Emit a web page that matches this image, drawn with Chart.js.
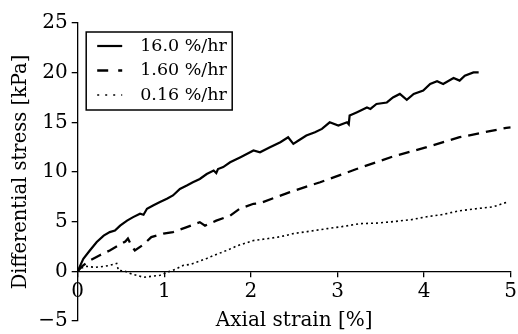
<!DOCTYPE html>
<html lang="en">
<head>
    <meta charset="UTF-8">
    <title>Differential stress vs axial strain</title>
    <script src="https://cdn.jsdelivr.net/npm/chart.js"></script>
    <style>
        html, body { margin: 0; padding: 0; background: #fff; }
        #wrap { width: 518px; height: 334px; }
    </style>
</head>
<body>
    <div id="wrap"><canvas id="stressChart"></canvas></div>

    <script>
        // Strain rate labels
        const rateLabels = ['16.0 %/hr', '1.60 %/hr', '0.16 %/hr'];

        // 16.0 %/hr curve
        const fastStrain = [0, 0.03, 0.065, 0.14, 0.22, 0.30, 0.37, 0.43, 0.49, 0.57, 0.64, 0.72, 0.76, 0.80, 0.87, 0.95, 1.03, 1.10, 1.18, 1.26, 1.33, 1.41, 1.49, 1.57, 1.60, 1.62, 1.68, 1.76, 1.88, 2.03, 2.105, 2.22, 2.34, 2.43, 2.49, 2.55, 2.64, 2.74, 2.82, 2.91, 3.01, 3.11, 3.13, 3.14, 3.22, 3.34, 3.38, 3.45, 3.57, 3.64, 3.72, 3.80, 3.88, 3.99, 4.07, 4.15, 4.22, 4.34, 4.41, 4.47, 4.57, 4.63];
        const fastStress = [0, 0.6, 1.27, 2.1, 2.95, 3.6, 3.95, 4.1, 4.6, 5.1, 5.46, 5.8, 5.7, 6.3, 6.63, 6.97, 7.3, 7.64, 8.3, 8.64, 8.97, 9.3, 9.8, 10.15, 9.9, 10.3, 10.5, 10.98, 11.49, 12.16, 11.99, 12.49, 13.0, 13.5, 12.83, 13.17, 13.67, 14.0, 14.34, 15.0, 14.67, 15.0, 14.8, 15.68, 16.0, 16.5, 16.35, 16.85, 17.0, 17.5, 17.86, 17.26, 17.86, 18.19, 18.86, 19.13, 18.86, 19.47, 19.2, 19.7, 20.03, 20.03];

        // 1.60 %/hr curve
        const midStrain = [0, 0.05, 0.14, 0.25, 0.37, 0.47, 0.55, 0.58, 0.62, 0.66, 0.76, 0.85, 0.99, 1.10, 1.26, 1.41, 1.47, 1.60, 1.76, 1.87, 2.03, 2.10, 2.45, 2.68, 2.80, 3.07, 3.22, 3.64, 4.03, 4.41, 4.95, 5.0];
        const midStress = [0, 0.5, 1.1, 1.6, 2.1, 2.6, 3.0, 3.3, 2.6, 2.1, 2.7, 3.45, 3.8, 3.95, 4.45, 4.95, 4.6, 5.1, 5.6, 6.3, 6.8, 6.85, 7.97, 8.64, 8.97, 9.82, 10.3, 11.56, 12.5, 13.5, 14.44, 14.5];

        // 0.16 %/hr curve
        const slowStrain = [0, 0.03, 0.1, 0.2, 0.3, 0.37, 0.45, 0.47, 0.55, 0.6, 0.68, 0.76, 0.85, 0.95, 1.03, 1.1, 1.22, 1.3, 1.4, 1.49, 1.6, 1.72, 1.85, 2.03, 2.2, 2.35, 2.49, 2.65, 2.88, 3.05, 3.26, 3.45, 3.64, 3.85, 4.03, 4.2, 4.41, 4.6, 4.8, 4.97];
        const slowStress = [0, 0.3, 0.5, 0.4, 0.5, 0.6, 0.8, 0.1, 0.0, -0.2, -0.4, -0.6, -0.5, -0.4, -0.1, 0.1, 0.6, 0.7, 1.0, 1.3, 1.7, 2.1, 2.6, 3.1, 3.3, 3.5, 3.8, 4.0, 4.3, 4.5, 4.8, 4.85, 5.0, 5.2, 5.5, 5.7, 6.1, 6.3, 6.5, 7.0];

        const serif = 'DejaVu Serif';

        function toPoints(xs, ys) {
            return xs.map((x, i) => ({ x: x, y: ys[i] }));
        }

        // Boxed legend drawn inside the plot area, top left
        const boxedLegend = {
            id: 'boxedLegend',
            afterDatasetsDraw(chart) {
                const ctx = chart.ctx;
                const area = chart.chartArea;
                const left = area.left + 8.5;
                const top = area.top + 9;
                ctx.save();
                ctx.strokeStyle = '#000';
                ctx.lineWidth = 1.5;
                ctx.strokeRect(left, top, 146, 78);
                ctx.font = '17.5px "' + serif + '"';
                ctx.fillStyle = '#000';
                ctx.textBaseline = 'middle';
                chart.data.datasets.forEach((ds, i) => {
                    const y = top + 14 + i * 24.5;
                    ctx.beginPath();
                    ctx.lineWidth = ds.borderWidth;
                    ctx.setLineDash(ds.legendDash || []);
                    ctx.moveTo(left + 11, y);
                    ctx.lineTo(left + 36, y);
                    ctx.stroke();
                    ctx.setLineDash([]);
                    ctx.fillText(ds.label, left + 54, y);
                });
                ctx.restore();
            }
        };

        new Chart(document.getElementById('stressChart'), {
            type: 'line',
            data: {
                datasets: [
                    {
                        label: rateLabels[0],
                        data: toPoints(fastStrain, fastStress),
                        borderColor: '#000',
                        borderWidth: 2.2
                    },
                    {
                        label: rateLabels[1],
                        data: toPoints(midStrain, midStress),
                        borderColor: '#000',
                        borderWidth: 2.3,
                        borderDash: [11, 7],
                        legendDash: [11, 10]
                    },
                    {
                        label: rateLabels[2],
                        data: toPoints(slowStrain, slowStress),
                        borderColor: '#000',
                        borderWidth: 1.6,
                        borderDash: [2, 3],
                        legendDash: [2, 6]
                    }
                ]
            },
            options: {
                responsive: true,
                maintainAspectRatio: false,
                animation: false,
                devicePixelRatio: 1,
                layout: { padding: { top: 23, right: 7.3, bottom: 13, left: 0 } },
                elements: { point: { radius: 0 }, line: { tension: 0 } },
                plugins: {
                    legend: { display: false },
                    tooltip: { enabled: false }
                },
                scales: {
                    x: {
                        type: 'linear',
                        position: { y: 0 },
                        min: 0,
                        max: 5,
                        ticks: { stepSize: 1, color: '#000', padding: 4, font: { family: serif, size: 20, lineHeight: 1.1 } },
                        grid: { drawOnChartArea: false, tickLength: 5, color: '#000', lineWidth: 1.3 },
                        border: { color: '#000', width: 1.3 },
                        title: {
                            display: true,
                            text: 'Axial strain [%]',
                            color: '#000',
                            font: { family: serif, size: 20 },
                            padding: { top: 2, bottom: 0 }
                        },
                        // end labels may overhang; keep the plot edge fixed by layout padding
                        afterFit: scale => { scale.paddingLeft = 0; scale.paddingRight = 0; }
                    },
                    y: {
                        min: -5,
                        max: 25,
                        ticks: {
                            stepSize: 5,
                            color: '#000',
                            padding: 4,
                            font: { family: serif, size: 20 },
                            callback: v => String(v).replace('-', '\u2212')
                        },
                        grid: { drawOnChartArea: false, tickLength: 6, color: '#000', lineWidth: 1.3 },
                        border: { color: '#000', width: 1.3 },
                        title: {
                            display: true,
                            text: 'Differential stress [kPa]',
                            color: '#000',
                            font: { family: serif, size: 19.5 },
                            padding: { top: 9, bottom: 0 }
                        },
                        afterFit: scale => {
                            scale.width = 77.7;
                            scale.paddingTop = 0;
                            scale.paddingBottom = 0;
                        }
                    }
                }
            },
            plugins: [boxedLegend]
        });
    </script>
</body>
</html>
